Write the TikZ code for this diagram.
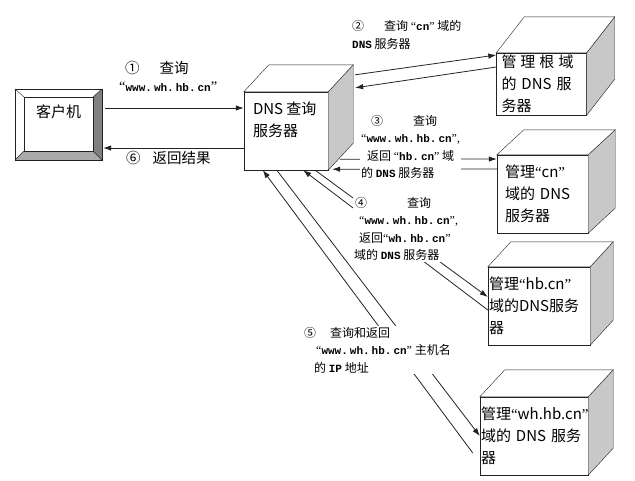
\documentclass[tikz,border=0pt]{standalone}
\usepackage{fontspec}
\usepackage{xcolor}
\usetikzlibrary{arrows.meta}
\setmainfont{Noto Sans CJK SC}
\newfontfamily\monofont{Liberation Mono}
\newfontfamily\latinfont{Liberation Serif}
\definecolor{linegray}{RGB}{35,35,35}
\definecolor{sidegray}{RGB}{200,200,200}
\definecolor{beveldark}{RGB}{128,128,128}
\definecolor{bevellight}{RGB}{170,170,170}
\newcommand{\quoted}[1]{{\latinfont“}{#1}{\latinfont”}}
\newcommand{\dom}[1]{{\monofont\bfseries\fontsize{11}{17.5}\selectfont #1}}
\newcommand{\site}{\dom{www.\kern2pt wh.\kern2pt hb.\kern2pt cn}}
\newcommand{\drawcube}[3]{%
 \draw[linegray, fill=sidegray] (#1.north east) -- ++(#2,#3) -- ([shift={(#2,#3)}]#1.south east) -- (#1.south east) -- cycle;
 \draw[linegray, fill=white] (#1.north west) -- ++(#2,#3) -- ([shift={(#2,#3)}]#1.north east) -- (#1.north east) -- cycle;
}
\tikzset{
 hostbox/.style={
 rectangle,
 draw=linegray,
 fill=white,
 minimum width=87pt,
 minimum height=71pt,
 inner sep=0pt,
 text depth=27pt,
 font=\fontsize{15}{19}\selectfont
 },
 srvbox/.style={
 rectangle,
 draw=linegray,
 fill=white,
 align=left,
 inner ysep=0pt,
 inner xsep=10pt,
 font=\fontsize{15}{22}\selectfont
 },
 lbl/.style={
 fill=white,
 inner sep=1pt,
 align=left,
 anchor=west,
 font=\fontsize{12}{17.5}\selectfont
 },
 biglbl/.style={
 inner sep=1pt,
 align=left,
 anchor=west,
 font=\fontsize{14.5}{18}\selectfont
 },
 flowarrow/.style={-{Latex[length=8pt,width=5.5pt]}, line width=0.8pt, draw=linegray}
}

\begin{document}
\begin{tikzpicture}[x=1pt,y=-1pt]
 \useasboundingbox (0,0) rectangle (635,480);

 % client with bevelled frame
 \node[hostbox] (client) at (58.5,124.5) {客户机};
 \coordinate (cin1) at ([shift={(9,8)}]client.north west);
 \coordinate (cin2) at ([shift={(-9,8)}]client.north east);
 \coordinate (cin3) at ([shift={(-9,-9)}]client.south east);
 \coordinate (cin4) at ([shift={(9,-9)}]client.south west);
 \fill[beveldark] (client.north east) -- (cin2) -- (cin3) -- (client.south east) -- cycle;
 \fill[bevellight] (client.south west) -- (cin4) -- (cin3) -- (client.south east) -- cycle;
 \draw[linegray] (cin1) rectangle (cin3);
 \draw[linegray] (client.north west) -- (cin1) (client.north east) -- (cin2)
 (client.south east) -- (cin3) (client.south west) -- (cin4);
 \draw[linegray] (client.north west) rectangle (client.south east);

 % servers
 \node[srvbox, minimum width=84pt, minimum height=78pt, inner xsep=9pt, inner ysep=10pt] (dns) at (286,131)
 {\parbox[c][58pt][t]{66pt}{DNS 查询\\服务器}};
 \drawcube{dns}{25}{-27}
 \node[srvbox, text width=80pt, inner xsep=5pt, minimum height=62pt] (root) at (541.5,84)
 {管\kern4pt 理\kern4pt 根\kern4pt 域\\的 DNS 服\\务器};
 \drawcube{root}{28}{-36}
 \node[srvbox, text width=75pt, inner xsep=8pt, minimum height=78pt] (cns) at (542.5,194)
 {管理\quoted{cn}\\域的 DNS\\服务器};
 \drawcube{cns}{27}{-25}
 \node[srvbox, text width=100pt, inner xsep=1pt, minimum height=78pt] (hbs) at (539,306)
 {管理\quoted{hb.cn}\\域的DNS服务\\器};
 \drawcube{hbs}{23}{-25}
 \node[srvbox, text width=106pt, inner xsep=1pt, minimum height=78pt] (whs) at (534,436)
 {管理\quoted{wh.hb.cn}\\域的 DNS 服务\\器};
 \drawcube{whs}{25}{-27}

 \draw[flowarrow] ([shift={(3,-16.5)}]client.east) -- ([yshift=16.5pt]client.east -| dns.west);
 \draw[flowarrow] ([yshift=-23.5pt]client.east -| dns.west) -- ([shift={(1,23.5)}]client.east);
 \draw[flowarrow] ([shift={(27,-17)}]dns.north east) -- ([yshift=29pt]root.west);
 \draw[flowarrow] ([yshift=17pt]root.west) -- ([shift={(27,-4)}]dns.north east);
 \draw[flowarrow] ([shift={(12,-11)}]dns.south east) -- ([yshift=35pt]cns.west);
 \draw[flowarrow] ([yshift=25pt]cns.west) -- ([shift={(4,-1)}]dns.south east);
 \draw[flowarrow] ([yshift=-4pt]hbs.west) -- ([xshift=-25pt]dns.south east);
 \draw[flowarrow] ([xshift=-13pt]dns.south east) -- ([yshift=9pt]hbs.west);
 \draw[flowarrow] ([shift={(-7,17)}]whs.west) -- ([xshift=19pt]dns.south west);
 \draw[flowarrow] ([xshift=33pt]dns.south west) -- (whs.west);

 % step labels
 \node[biglbl] (step1) at (118,76) {\hspace{6pt}①\hspace{20pt}查询\\\quoted{\site}};
 \node[biglbl] (step6) at (125,158) {⑥\hspace{12pt}返回结果};
 \node[lbl] (step2) at (351,35) {②\hspace{20pt}查询 \quoted{\dom{cn}} 域的\\\dom{DNS} 服务器};
 \node[lbl] (step3) at (360,147) {\hspace{10pt}③\hspace{30pt}查询\\\quoted{\site}{\latinfont,}\\
 \hspace{6pt}返回 \quoted{\dom{hb.\kern2pt cn}} 域\\的 \dom{DNS} 服务器};
 \node[lbl] (step4) at (353,229) {\hspace{1pt}④\hspace{40pt}查询\\\hspace{5pt}\quoted{\site}{\latinfont,}\\
 \hspace{5pt}返回\quoted{\dom{wh.\kern2pt hb.\kern2pt cn}}\\域的 \dom{DNS} 服务器};
 \node[lbl] (step5) at (303,350) {⑤\hspace{14pt}查询和返回\\\hspace{12pt}\quoted{\site} 主机名\\
 \hspace{10pt}的 \dom{IP} 地址};
\end{tikzpicture}
\end{document}
